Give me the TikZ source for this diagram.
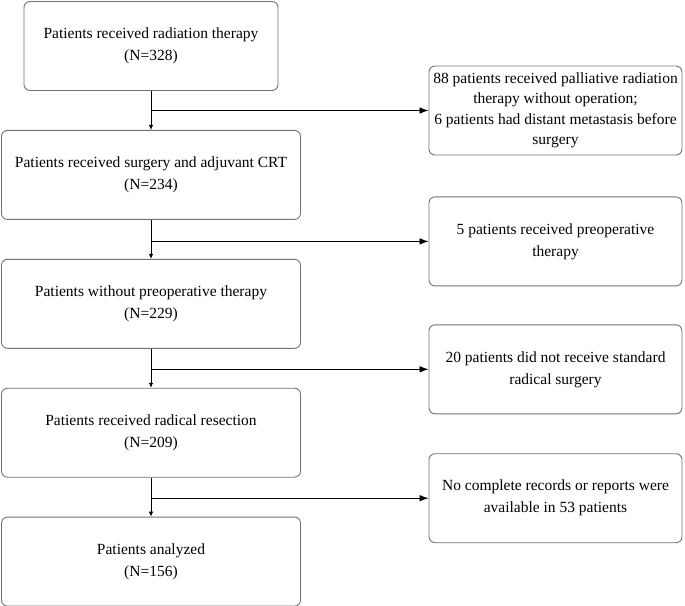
\documentclass[tikz,border=0pt]{standalone}
\usepackage{fontspec}
\setmainfont{Liberation Serif}
\usepackage{tikz}
\usetikzlibrary{arrows.meta,calc,positioning}

\begin{document}
\begin{tikzpicture}[x=1pt,y=1pt,>={Latex[length=5pt,width=4.5pt]}]
	\tikzstyle{block} = [draw=black!55, line width=0.9pt, rounded corners=6pt, rectangle, align=center, minimum height=89pt, inner sep=2pt, font=\fontsize{15.5}{22}\selectfont]
	\tikzstyle{exarrow} = [-{Latex[length=9pt,width=6.5pt]}, line width=0.8pt]
	\useasboundingbox (0,0) rectangle (685,-605);
	
	\node [block, minimum width=254pt] (rt) at (151,-46) {Patients received radiation therapy\\(N=328)};
	\node [block, minimum width=299pt, below = 39pt of rt] (surg) {Patients received surgery and adjuvant CRT\\(N=234)};
	\node [block, minimum width=299pt, below = 39pt of surg] (nopre) {Patients without preoperative therapy\\(N=229)};
	\node [block, minimum width=299pt, below = 39pt of nopre] (radres) {Patients received radical resection\\(N=209)};
	\node [block, minimum width=299pt, below = 39pt of radres] (analyzed) {Patients analyzed\\(N=156)};
	
	\node [block, minimum width=253pt, font=\fontsize{15.5}{20.5}\selectfont] (ex1) at (555.5,-110.5) {88 patients received palliative radiation\\therapy without operation;\\6 patients had distant metastasis before\\surgery};
	\node [block, minimum width=253pt, below = 41pt of ex1] (ex2) {5 patients received preoperative\\therapy};
	\node [block, minimum width=253pt, below = 38pt of ex2] (ex3) {20 patients did not receive standard\\radical surgery};
	\node [block, minimum width=253pt, below = 39pt of ex3] (ex4) {No complete records or reports were\\available in 53 patients};
	
	\draw [->, line width=0.8pt] (rt) -- (surg);
	\draw [->, line width=0.8pt] (surg) -- (nopre);
	\draw [->, line width=0.8pt] (nopre) -- (radres);
	\draw [->, line width=0.8pt] (radres) -- (analyzed);
	
	\draw [exarrow] (rt.south |- ex1.west) -- (ex1.west);
	\draw [exarrow] (surg.south |- ex2.west) -- (ex2.west);
	\draw [exarrow] (nopre.south |- ex3.west) -- (ex3.west);
	\draw [exarrow] (radres.south |- ex4.west) -- (ex4.west);
\end{tikzpicture}
\end{document}
